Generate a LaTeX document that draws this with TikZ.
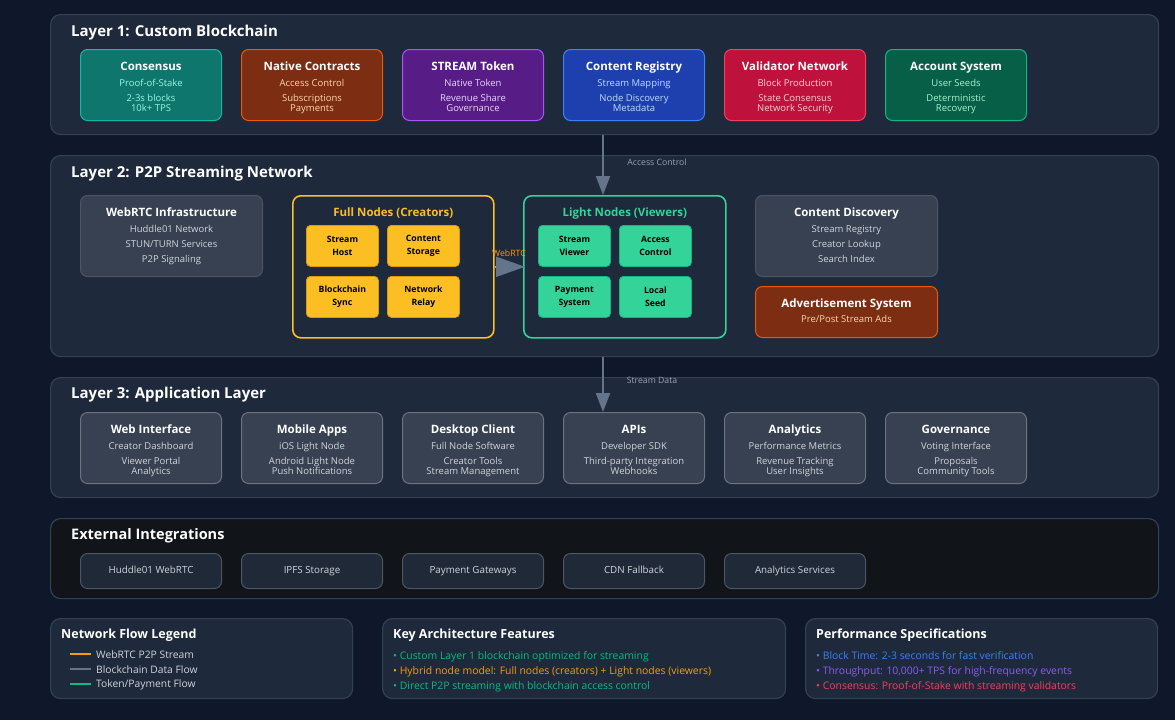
\documentclass[tikz,border=0pt]{standalone}
\usepackage{fontspec}
\setmainfont{Open Sans}
\usetikzlibrary{arrows.meta}
\definecolor{bg}{HTML}{0F172A}
\definecolor{panelfill}{HTML}{1E293B}
\definecolor{panelborder}{HTML}{334155}
\definecolor{extfill}{HTML}{111418}
\definecolor{grayfill}{HTML}{374151}
\definecolor{grayborder}{HTML}{6B7280}
\definecolor{infraborder}{HTML}{4B5563}
\definecolor{subgray}{HTML}{D1D5DB}
\definecolor{slatearrow}{HTML}{64748B}
\definecolor{labelgray}{HTML}{94A3B8}
\definecolor{amber}{HTML}{FBBF24}
\definecolor{amberdark}{HTML}{D99A0B}
\definecolor{orangeline}{HTML}{F59E0B}
\definecolor{emerald}{HTML}{34D399}
\definecolor{emeralddark}{HTML}{10B981}
\definecolor{tealfill}{HTML}{0F766E}
\definecolor{tealborder}{HTML}{14B8A6}
\definecolor{tealsub}{HTML}{99F6E4}
\definecolor{rustfill}{HTML}{7C2D12}
\definecolor{rustborder}{HTML}{EA580C}
\definecolor{rustsub}{HTML}{FED7AA}
\definecolor{purplefill}{HTML}{581C87}
\definecolor{purpleborder}{HTML}{A855F7}
\definecolor{purplesub}{HTML}{E9D5FF}
\definecolor{bluefill}{HTML}{1E40AF}
\definecolor{blueborder}{HTML}{3B82F6}
\definecolor{bluesub}{HTML}{BFDBFE}
\definecolor{rosefill}{HTML}{BE123C}
\definecolor{roseborder}{HTML}{F43F5E}
\definecolor{rosesub}{HTML}{FECDD3}
\definecolor{greenfill}{HTML}{065F46}
\definecolor{greenborder}{HTML}{10B981}
\definecolor{greensub}{HTML}{A7F3D0}
\definecolor{featgreen}{HTML}{10B981}
\definecolor{featamber}{HTML}{F59E0B}
\definecolor{perfblue}{HTML}{3B82F6}
\definecolor{perfviolet}{HTML}{8B5CF6}
\definecolor{perfred}{HTML}{F43F5E}
\definecolor{extbox}{HTML}{1F2937}

\tikzset{
  panel/.style={draw=panelborder, fill=panelfill, rounded corners=10pt, line width=1.2pt, anchor=north west, inner sep=0pt},
  ltitle/.style={anchor=west, text=white, font=\fontsize{15}{18}\selectfont\bfseries, inner sep=0pt, text height=11pt, text depth=3.5pt, yshift=-2.5pt},
  ptitle/.style={anchor=west, text=white, font=\fontsize{12.5}{15}\selectfont\bfseries, inner sep=0pt, text height=9pt, text depth=3pt, yshift=-1.5pt},
  cbox/.style={rounded corners=7pt, line width=1pt, inner sep=0pt},
  ctitle/.style={text=white, font=\fontsize{11.5}{13}\selectfont\bfseries, inner sep=0pt, text height=8.5pt, text depth=2.5pt, yshift=-1.5pt},
  csub/.style={font=\fontsize{9.5}{10}\selectfont, inner sep=0pt, text height=7pt, text depth=2pt, yshift=-1.5pt},
  graybox/.style={cbox, draw=grayborder, fill=grayfill},
  infrabox/.style={cbox, draw=infraborder, fill=grayfill, anchor=north west, minimum width=182pt, minimum height=81pt},
  smallbox/.style={rounded corners=4pt, line width=0.8pt, anchor=north west, minimum width=72pt, minimum height=41pt, align=center, inner sep=0pt, text=black, font=\fontsize{8.7}{13}\selectfont\bfseries},
  extnode/.style={rounded corners=7pt, line width=1pt, draw=infraborder, fill=extbox, anchor=north west, minimum width=141pt, minimum height=35pt, text=subgray, font=\fontsize{9.8}{11}\selectfont, inner sep=0pt, text height=7.5pt, text depth=2.5pt},
  flowarrow/.style={draw=slatearrow, line width=2pt, -{Triangle[length=19pt,width=14pt]}},
  flowlabel/.style={text=labelgray, font=\fontsize{8.7}{10}\selectfont, inner sep=0pt},
  legline/.style={line width=2.5pt},
  legtext/.style={anchor=west, text=subgray, font=\fontsize{10.3}{12}\selectfont, inner sep=0pt, yshift=-1pt},
  feat/.style={anchor=west, font=\fontsize{10.4}{12}\selectfont, inner sep=0pt, text height=7.5pt, text depth=2.5pt, yshift=-1.5pt},
}

\newcommand\card[9]{%
  \node[#2, minimum width=141pt, minimum height=71pt, anchor=north west] (#1) at (#3,#4) {};
  \node[ctitle] (#1t) at ([yshift=-17pt]#1.north) {#5};
  \node[csub, text=#9] (#1a) at ([yshift=-33pt]#1.north) {#6};
  \node[csub, text=#9] (#1b) at ([yshift=-48pt]#1.north) {#7};
  \node[csub, text=#9] (#1c) at ([yshift=-58pt]#1.north) {#8};
}

\begin{document}
\begin{tikzpicture}[x=1pt, y=-1pt]
\fill[bg] (0,0) rectangle (1175,720);
\useasboundingbox (0,0) rectangle (1175,720);

% ---------- Layer 1 ----------
\node[panel, minimum width=1108pt, minimum height=120pt] (l1) at (50,14) {};
\node[ltitle] (l1title) at (71,30) {Layer 1: Custom Blockchain};
\card{cons}{cbox, draw=tealborder, fill=tealfill}{80}{49}{Consensus}{Proof-of-Stake}{2-3s blocks}{10k+ TPS}{tealsub}
\card{ncon}{cbox, draw=rustborder, fill=rustfill}{241}{49}{Native Contracts}{Access Control}{Subscriptions}{Payments}{rustsub}
\card{stok}{cbox, draw=purpleborder, fill=purplefill}{402}{49}{STREAM Token}{Native Token}{Revenue Share}{Governance}{purplesub}
\card{creg}{cbox, draw=blueborder, fill=bluefill}{563}{49}{Content Registry}{Stream Mapping}{Node Discovery}{Metadata}{bluesub}
\card{vnet}{cbox, draw=roseborder, fill=rosefill}{724}{49}{Validator Network}{Block Production}{State Consensus}{Network Security}{rosesub}
\card{acct}{cbox, draw=greenborder, fill=greenfill}{885}{49}{Account System}{User Seeds}{Deterministic}{Recovery}{greensub}

% ---------- Layer 2 ----------
\node[panel, minimum width=1108pt, minimum height=201pt] (l2) at (50,155) {};
\node[ltitle] (l2title) at (71,171) {Layer 2: P2P Streaming Network};

\node[infrabox] (infra) at (80,195) {};
\node[ctitle] (infrat) at ([yshift=-17pt]infra.north) {WebRTC Infrastructure};
\node[csub, text=subgray] (infra1) at ([yshift=-33pt]infra.north) {Huddle01 Network};
\node[csub, text=subgray] (infra2) at ([yshift=-48pt]infra.north) {STUN/TURN Services};
\node[csub, text=subgray] (infra3) at ([yshift=-63pt]infra.north) {P2P Signaling};

\node[draw=amber, fill=panelfill, rounded corners=8pt, line width=1.6pt, anchor=north west, minimum width=201pt, minimum height=142pt, inner sep=0pt] (fn) at (292,195) {};
\node[ctitle, text=amber] (fnt) at ([yshift=-17pt]fn.north) {Full Nodes (Creators)};
\node[smallbox, draw=amberdark, fill=amber] (shost) at (306,225) {Stream\\Host};
\node[smallbox, draw=amberdark, fill=amber] (cstor) at (387,225) {Content\\Storage};
\node[smallbox, draw=amberdark, fill=amber] (bsync) at (306,276) {Blockchain\\Sync};
\node[smallbox, draw=amberdark, fill=amber] (nrel) at (387,276) {Network\\Relay};

\node[draw=emerald, fill=panelfill, rounded corners=8pt, line width=1.6pt, anchor=north west, minimum width=202pt, minimum height=142pt, inner sep=0pt] (ln) at (523,195) {};
\node[ctitle, text=emerald] (lnt) at ([yshift=-17pt]ln.north) {Light Nodes (Viewers)};
\node[smallbox, draw=emeralddark, fill=emerald] (sview) at (538,225) {Stream\\Viewer};
\node[smallbox, draw=emeralddark, fill=emerald] (actl) at (619,225) {Access\\Control};
\node[smallbox, draw=emeralddark, fill=emerald] (psys) at (538,276) {Payment\\System};
\node[smallbox, draw=emeralddark, fill=emerald] (lseed) at (619,276) {Local\\Seed};

\node[infrabox] (cdisc) at (755,195) {};
\node[ctitle] (cdisct) at ([yshift=-17pt]cdisc.north) {Content Discovery};
\node[csub, text=subgray] (cdisc1) at ([yshift=-33pt]cdisc.north) {Stream Registry};
\node[csub, text=subgray] (cdisc2) at ([yshift=-48pt]cdisc.north) {Creator Lookup};
\node[csub, text=subgray] (cdisc3) at ([yshift=-63pt]cdisc.north) {Search Index};

\node[cbox, draw=rustborder, fill=rustfill, anchor=north west, minimum width=182pt, minimum height=51pt] (ads) at (755,286) {};
\node[ctitle] (adst) at ([yshift=-17pt]ads.north) {Advertisement System};
\node[csub, text=rustsub] (ads1) at ([yshift=-32pt]ads.north) {Pre/Post Stream Ads};

% WebRTC arrow
\draw[orangeline, line width=2pt, -{Triangle[length=29pt,width=20pt,color=slatearrow]}] (fn.east) -- ([xshift=2pt]ln.west);
\node[text=orangeline, font=\fontsize{8.7}{10}\selectfont, inner sep=0pt] (webrtcl) at (509,253) {WebRTC};

% ---------- Layer 3 ----------
\node[panel, minimum width=1108pt, minimum height=120pt] (l3) at (50,377) {};
\node[ltitle] (l3title) at (71,392) {Layer 3: Application Layer};
\card{web}{graybox}{80}{412}{Web Interface}{Creator Dashboard}{Viewer Portal}{Analytics}{subgray}
\card{mob}{graybox}{241}{412}{Mobile Apps}{iOS Light Node}{Android Light Node}{Push Notifications}{subgray}
\card{desk}{graybox}{402}{412}{Desktop Client}{Full Node Software}{Creator Tools}{Stream Management}{subgray}
\card{apis}{graybox}{563}{412}{APIs}{Developer SDK}{Third-party Integration}{Webhooks}{subgray}
\card{anal}{graybox}{724}{412}{Analytics}{Performance Metrics}{Revenue Tracking}{User Insights}{subgray}
\card{gov}{graybox}{885}{412}{Governance}{Voting Interface}{Proposals}{Community Tools}{subgray}

% vertical arrows
\coordinate (vx) at (603,0);
\draw[flowarrow] (l1.south -| vx) -- (ln.north -| vx);
\node[flowlabel] (acl) at (657,162) {Access Control};
\draw[flowarrow] (l2.south -| vx) -- (apis.north -| vx);
\node[flowlabel] (sdl) at (652,380) {Stream Data};

% ---------- External ----------
\node[panel, fill=extfill, minimum width=1108pt, minimum height=80pt] (ext) at (50,518) {};
\node[ltitle, font=\fontsize{14.5}{17}\selectfont\bfseries] (extt) at (71,533) {External Integrations};
\node[extnode] (e1) at (80,553) {Huddle01 WebRTC};
\node[extnode] (e2) at (241,553) {IPFS Storage};
\node[extnode] (e3) at (402,553) {Payment Gateways};
\node[extnode] (e4) at (563,553) {CDN Fallback};
\node[extnode] (e5) at (724,553) {Analytics Services};

% ---------- Bottom panels ----------
\node[panel, minimum width=302pt, minimum height=80pt] (leg) at (50,618) {};
\node[ptitle] (legt) at (61,634) {Network Flow Legend};
\coordinate (lg1a) at (70,654); \coordinate (lg1b) at (91,654);
\coordinate (lg2a) at (70,669); \coordinate (lg2b) at (91,669);
\coordinate (lg3a) at (70,684); \coordinate (lg3b) at (91,684);
\draw[legline, orangeline] (lg1a) -- (lg1b);
\draw[legline, grayborder] (lg2a) -- (lg2b);
\draw[legline, featgreen] (lg3a) -- (lg3b);
\node[legtext] (lgt1) at (96,654) {WebRTC P2P Stream};
\node[legtext] (lgt2) at (96,669) {Blockchain Data Flow};
\node[legtext] (lgt3) at (96,684) {Token/Payment Flow};

\node[panel, minimum width=403pt, minimum height=80pt] (kaf) at (382,618) {};
\node[ptitle] (kaft) at (393,634) {Key Architecture Features};
\node[feat, text=featgreen] (kf1) at (393,655) {• Custom Layer 1 blockchain optimized for streaming};
\node[feat, text=featamber] (kf2) at (393,670) {• Hybrid node model: Full nodes (creators) + Light nodes (viewers)};
\node[feat, text=featgreen] (kf3) at (393,685) {• Direct P2P streaming with blockchain access control};

\node[panel, minimum width=352pt, minimum height=80pt] (perf) at (805,618) {};
\node[ptitle] (perft) at (816,634) {Performance Specifications};
\node[feat, text=perfblue] (pf1) at (816,655) {• Block Time: 2-3 seconds for fast verification};
\node[feat, text=perfviolet] (pf2) at (816,670) {• Throughput: 10,000+ TPS for high-frequency events};
\node[feat, text=perfred] (pf3) at (816,685) {• Consensus: Proof-of-Stake with streaming validators};
\end{tikzpicture}
\end{document}
